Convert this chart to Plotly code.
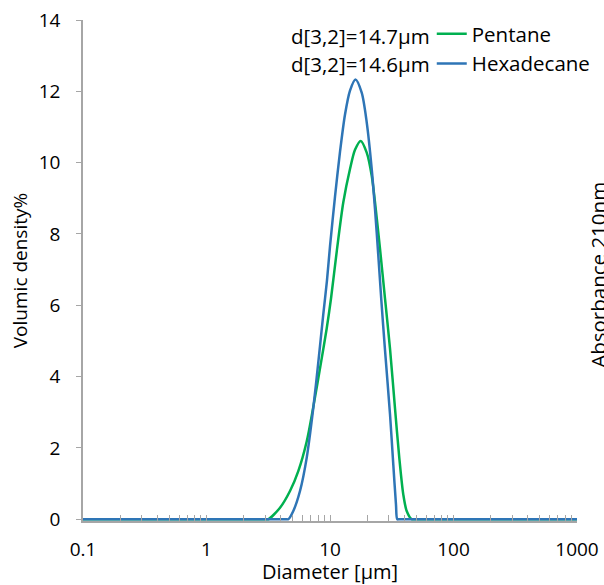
import plotly.graph_objects as go

# Particle size distributions
pentane_d = [0.1, 3.0, 3.166, 3.937, 4.744, 5.537, 6.476, 7.325, 8.568, 9.404, 10.19,
             11.33, 12.82, 14.52, 15.94, 17.73, 19.83, 21.77, 23.14, 25.41, 27.88,
             30.60, 33.60, 36.40, 39.23, 41.78, 45.86, 48.0, 1000]
pentane_v = [0, 0, 0, 0.32, 0.79, 1.35, 2.18, 3.15, 4.51, 5.35, 6.19,
             7.50, 8.89, 9.82, 10.36, 10.61, 10.28, 9.63, 8.89, 7.58, 6.19,
             4.79, 3.11, 1.72, 0.69, 0.23, 0, 0, 0]

hexadecane_d = [0.1, 4.40, 4.597, 5.045, 5.716, 6.476, 7.325, 8.04, 8.826, 9.44, 10.0,
                10.98, 12.05, 13.23, 14.52, 16.09, 18.06, 19.83, 21.77, 23.14, 24.61,
                25.98, 27.88, 30.60, 32.55, 34.22, 35.06, 36.5, 1000]
hexadecane_v = [0, 0, 0, 0.23, 0.79, 1.72, 3.12, 4.40, 5.75, 6.68, 7.65,
                9.05, 10.30, 11.35, 12.02, 12.33, 11.96, 11.13, 9.82, 8.70, 7.40,
                6.19, 4.75, 2.95, 1.53, 0.41, 0, 0, 0]

series_names = ["Pentane", "Hexadecane"]
d32_labels = ["d[3,2]=14.7µm", "d[3,2]=14.6µm"]
x_tickvals = [0.1, 1, 10, 100, 1000]
x_ticktext = ["0.1", "1", "10", "100", "1000"]
y_tickvals = [0, 2, 4, 6, 8, 10, 12, 14]

GREEN = "#00B050"
BLUE = "#2E75B6"
AXIS = "#A6A6A6"
FONT = "Open Sans"

fig = go.Figure()
fig.add_trace(go.Scatter(x=pentane_d, y=pentane_v, mode="lines", name=series_names[0],
                         line=dict(color=GREEN, width=2.5, shape="spline", smoothing=0.8)))
fig.add_trace(go.Scatter(x=hexadecane_d, y=hexadecane_v, mode="lines", name=series_names[1],
                         line=dict(color=BLUE, width=2.5, shape="spline", smoothing=0.8)))

fig.update_layout(
    width=604, height=585,
    margin=dict(l=83, r=27, t=20, b=64, autoexpand=False),
    paper_bgcolor="white", plot_bgcolor="white",
    font=dict(family=FONT, size=19, color="#000000"),
    showlegend=True,
    legend=dict(x=0.706, y=1.012, xanchor="left", yanchor="top",
                bgcolor="rgba(0,0,0,0)", font=dict(size=20.5),
                tracegroupgap=0, itemwidth=30),
)

fig.update_xaxes(
    type="log", range=[-1, 3], automargin=False,
    tickvals=x_tickvals, ticktext=x_ticktext,
    showline=True, linecolor=AXIS, linewidth=1.5,
    ticks="inside", ticklen=6, tickcolor=AXIS, tickwidth=1,
    minor=dict(ticks="inside", ticklen=6, tickcolor=AXIS, dtick="D1", showgrid=False),
    showgrid=False, zeroline=False,
    ticklabelstandoff=10,
    title=dict(text="Diameter [µm]", standoff=0, font=dict(size=20)),
)
fig.update_yaxes(
    range=[-0.05, 14], automargin=False,
    tickvals=y_tickvals,
    showline=True, linecolor=AXIS, linewidth=1.5,
    ticks="outside", ticklen=5, tickcolor=AXIS,
    showgrid=False, zeroline=False,
    ticklabelstandoff=12,
    title=dict(text="Volumic density%", standoff=6, font=dict(size=19)),
)

for i, txt in enumerate(d32_labels):
    fig.add_annotation(text=txt, xref="paper", yref="paper",
                       x=(432 - 83) / 494, y=(521.5 - (36 + 28 * i)) / 501.5,
                       xanchor="right", yanchor="middle", showarrow=False,
                       font=dict(size=20.5))

fig.add_annotation(text="Absorbance 210nm", xref="paper", yref="paper",
                   x=(598 - 83) / 494, y=(521.5 - 275) / 501.5,
                   xanchor="center", yanchor="middle", textangle=-90,
                   showarrow=False, font=dict(size=20.5))

fig.write_html("out.html")
